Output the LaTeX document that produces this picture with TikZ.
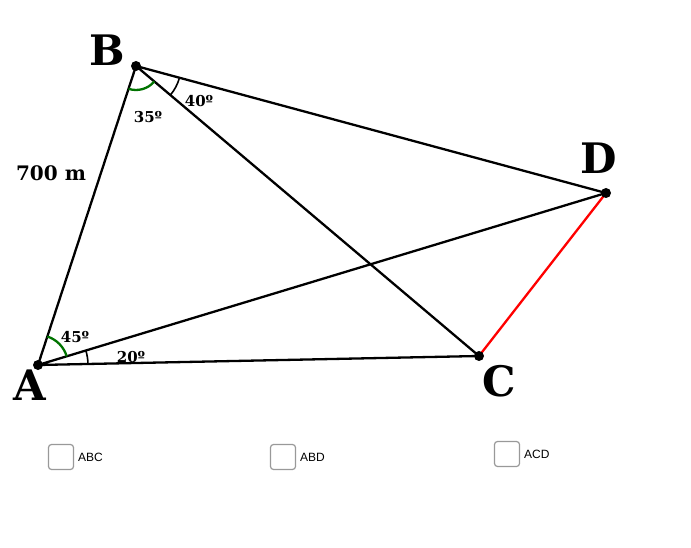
\documentclass[tikz,border=0pt]{standalone}
\usepackage{fontspec}
\setmainfont{DejaVu Serif}
\newfontfamily\cbfont{Liberation Sans}
\usetikzlibrary{angles}
\begin{document}
\begin{tikzpicture}[x=1pt,y=1pt,
  seg/.style={line width=2.3pt},
  pt/.style={circle,fill=black,inner sep=0pt,minimum size=10pt},
  big/.style={font=\bfseries\fontsize{42}{42}\selectfont},
  ang/.style={font=\bfseries\fontsize{15}{15}\selectfont,inner sep=0pt},
  cb/.style={draw=gray!80,rounded corners=3pt,minimum size=25pt,line width=1.2pt},
  cbl/.style={font=\cbfont\fontsize{12}{12}\selectfont,anchor=west,inner sep=0pt}]
\useasboundingbox (0,0) rectangle (691,547);
\coordinate (A) at (38,182);
\coordinate (B) at (136,481);
\coordinate (C) at (479,191);
\coordinate (D) at (606,354);
\draw[seg] (A) -- (B) (A) -- (C) (A) -- (D) (B) -- (C) (B) -- (D);
\draw[seg,red] (C) -- (D);
\pic[draw=green!45!black,line width=2.3pt,angle radius=30]{angle=D--A--B};
\pic[draw,line width=1.6pt,angle radius=50]{angle=C--A--D};
\pic[draw=green!45!black,line width=2.3pt,angle radius=24]{angle=A--B--C};
\pic[draw,line width=1.6pt,angle radius=45]{angle=C--B--D};
\node[pt] (pA) at (A) {};
\node[pt] (pB) at (B) {};
\node[pt] (pC) at (C) {};
\node[pt] (pD) at (D) {};
\node[big] (lA) at (30,162) {A};
\node[big] (lB) at (107,497) {B};
\node[big] (lC) at (499,166) {C};
\node[big] (lD) at (599,389) {D};
\node[font=\bfseries\fontsize{20}{20}\selectfont] (l700) at (51,374) {700 m};
\node[ang] (a45) at (75,210) {45º};
\node[ang] (a20) at (131,190) {20º};
\node[ang] (a35) at (148,430) {35º};
\node[ang] (a40) at (199,446) {40º};
\node[cb] (c1) at (61,90) {};
\node[cbl] (t1) at (78,90) {ABC};
\node[cb] (c2) at (283,90) {};
\node[cbl] (t2) at (300,90) {ABD};
\node[cb] (c3) at (507,93) {};
\node[cbl] (t3) at (524,93) {ACD};
\end{tikzpicture}
\end{document}
